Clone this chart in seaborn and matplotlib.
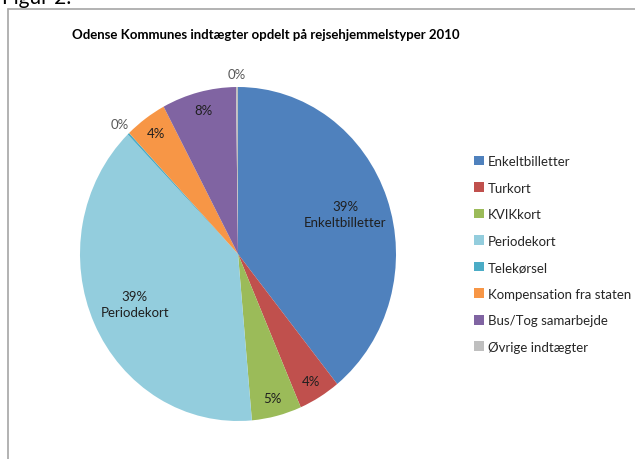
import numpy as np
import matplotlib
matplotlib.use("Agg")
import matplotlib.pyplot as plt
import seaborn as sns
from matplotlib.lines import Line2D
from matplotlib.patches import Patch

# Data (share of revenue, %)
categories = ['Enkeltbilletter', 'Turkort', 'KVIKkort', 'Periodekort', 'Telekørsel',
              'Kompensation fra staten', 'Bus/Tog samarbejde', 'Øvrige indtægter']
shares = [39.2, 4.3, 5.1, 39.1, 0.2, 4.3, 7.6, 0.2]
named_labels = ['Enkeltbilletter', 'Periodekort']  # slices that also show their name

colors = ['#4F81BD', '#C0504D', '#9BBB59', '#93CDDD', '#4BACC6',
          '#F79646', '#8064A2', '#BFBFBF']

sns.set_theme(style="white")
plt.rcParams['font.family'] = ['Lato', 'DejaVu Sans']

fig = plt.figure(figsize=(6.35, 4.6), dpi=100)

# pie axes (slightly taller than wide, like the reference)
ax = fig.add_axes([80 / 635, 38 / 460, 316 / 635, 334 / 460])
wedges, _ = ax.pie(shares, colors=colors, startangle=90, counterclock=False,
                   wedgeprops=dict(linewidth=0))
ax.set_aspect('auto')
ax.set_xlim(-1, 1)
ax.set_ylim(-1, 1)
ax.axis('off')

# data labels
for w, cat, val in zip(wedges, categories, shares):
    mid = np.deg2rad((w.theta1 + w.theta2) / 2)
    txt = f"{round(val):.0f}%"
    if val >= 20:
        r, col = 0.72, '#1F1F1F'
    elif val >= 1:
        r, col = 0.89, '#1F1F1F'
    else:
        r, col = 1.08, '#595959'
    if cat in named_labels:
        txt = txt + "\n" + cat
    ax.text(r * np.cos(mid), r * np.sin(mid), txt, ha='center', va='center',
            fontsize=9.5, color=col, linespacing=1.45, clip_on=False)

# title
fig.text(266 / 635, 1 - 35 / 460, "Odense Kommunes indtægter opdelt på rejsehjemmelstyper 2010",
         ha='center', va='center', fontsize=9.5, fontweight='bold', color='#000000')

# legend
handles = [Patch(facecolor=c, edgecolor='none') for c in colors]
fig.legend(handles, categories, loc='center left', bbox_to_anchor=(469 / 635, 1 - 255 / 460),
           frameon=False, fontsize=9.5, handlelength=0.75, handleheight=0.75,
           handletextpad=0.3, labelspacing=1.1, borderaxespad=0)

# chart border (only left and top edges visible in the crop)
fig.add_artist(Line2D([8 / 635, 8 / 635], [0, 1 - 10 / 460], color='#A6A6A6', lw=1.2))
fig.add_artist(Line2D([8 / 635, 1], [1 - 10 / 460, 1 - 10 / 460], color='#A6A6A6', lw=1.2))

# caption cut off at the top of the crop
fig.text(2 / 635, 1 - 4 / 460, "Figur 2:", ha='left', va='baseline', fontsize=15, color='#000000')

fig.savefig("out.png", dpi=100, facecolor='white')
